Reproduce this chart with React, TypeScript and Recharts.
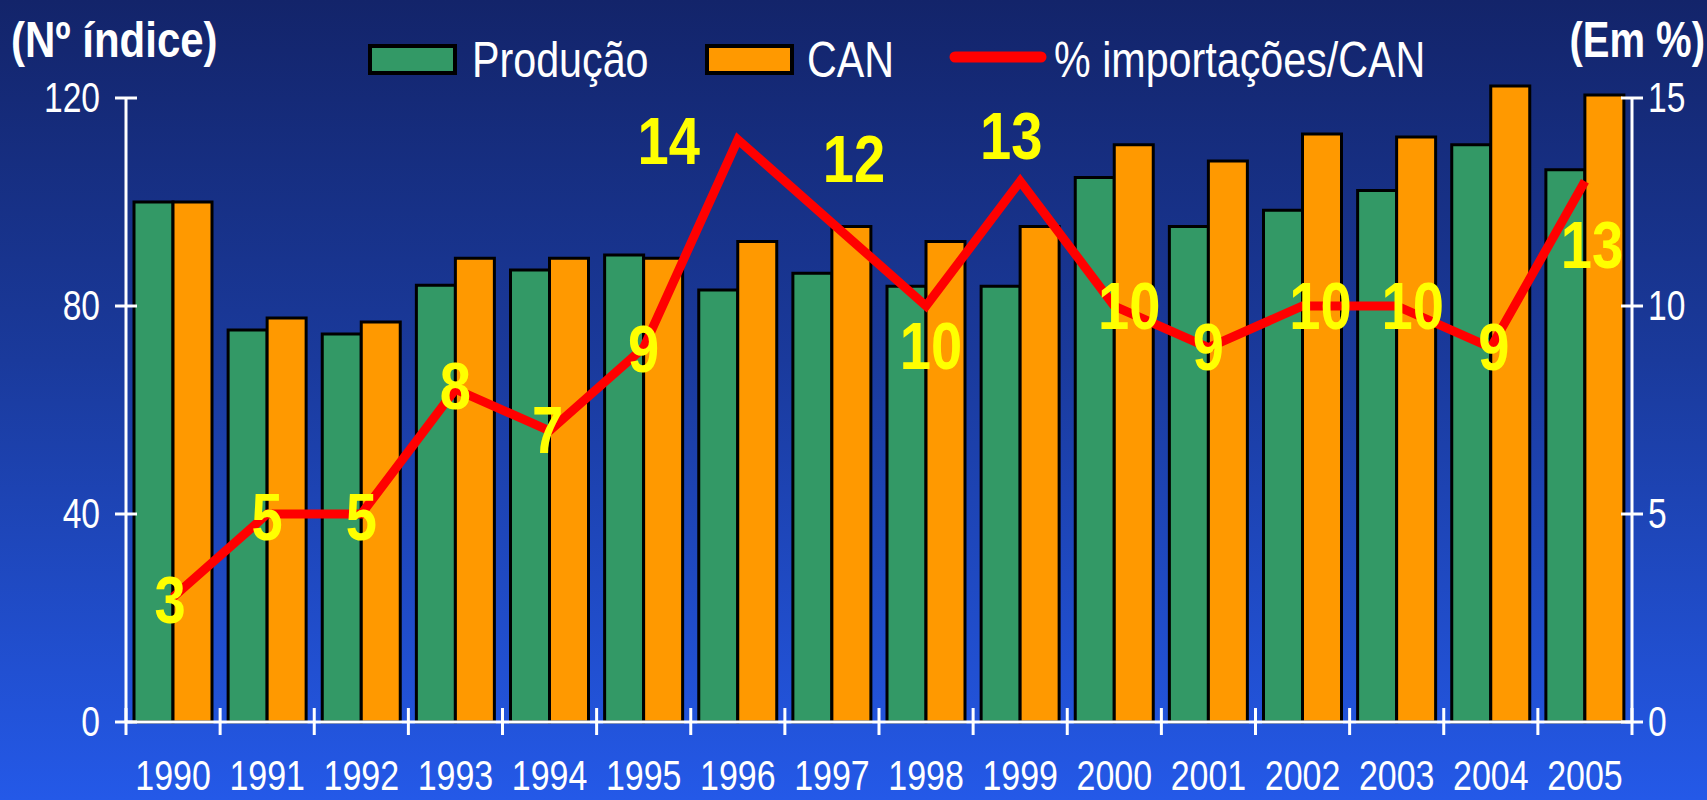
import React from "react";
import {
  ComposedChart,
  Bar,
  Line,
  XAxis,
  YAxis,
  Legend,
  LabelList,
} from "recharts";

const years = ["1990","1991","1992","1993","1994","1995","1996","1997","1998","1999","2000","2001","2002","2003","2004","2005"];
const producao = [100, 75.4, 74.6, 84, 86.9, 89.8, 83.1, 86.3, 83.8, 83.8, 104.7, 95.3, 98.4, 102.2, 111, 106.2];
const can = [100, 77.7, 76.9, 89.2, 89.2, 89.2, 92.4, 95.3, 92.4, 95.3, 111, 107.9, 113.1, 112.5, 122.3, 120.6];
const importShare = [3, 5, 5, 8, 7, 9, 14, 12, 10, 13, 10, 9, 10, 10, 9, 13];
const leftTicks = [0, 40, 80, 120];
const rightTicks = [0, 5, 10, 15];
const legendOrder = ["Produção", "CAN", "% importações/CAN"];

// label placement offsets (dx, dy) relative to the line point
const labelDx = [-3, 0, 0, 0, -2, 0, -69, 22, 5, -9, 15, 0, 18, 16, 3, 7];
const labelDy = [3, 3, 3, -3, 0, 2, 2, -63, 40, -45, 0, 0, 0, 0, 0, 64];

const data = years.map((y, i) => ({
  year: y,
  producao: producao[i],
  can: can[i],
  share: importShare[i],
}));

const W = 1707;
const H = 800;
const LEFT_W = 126;
const RIGHT_W = 75;
const TOP = 98;
const XAXIS_H = 78;
const BAND = (W - LEFT_W - RIGHT_W) / years.length;
const FONT = "'Liberation Sans', Arial, sans-serif";
const NARROW = 0.8;

const NText = (props: any) => {
  const { x, y, sx = NARROW, children, ...rest } = props;
  return (
    <text transform={`translate(${x},${y}) scale(${sx},1)`} x={0} y={0} fontFamily={FONT} {...rest}>
      {children}
    </text>
  );
};

const LeftTick = (props: any) => {
  const { x, y, payload } = props;
  return (
    <g>
      <line x1={x - 11} x2={x + 11} y1={y} y2={y} stroke="#fff" strokeWidth={3} />
      <NText x={x - 26} y={y} textAnchor="end" dominantBaseline="central" fill="#fff" fontSize={42}>
        {payload.value}
      </NText>
    </g>
  );
};

const RightTick = (props: any) => {
  const { x, y, payload } = props;
  return (
    <g>
      <line x1={x - 11} x2={x + 11} y1={y} y2={y} stroke="#fff" strokeWidth={3} />
      <NText x={x + 16} y={y} textAnchor="start" dominantBaseline="central" fill="#fff" fontSize={42}>
        {payload.value}
      </NText>
    </g>
  );
};

const XTick = (props: any) => {
  const { x, y, payload, index } = props;
  const half = BAND / 2;
  return (
    <g>
      <line x1={x - half} x2={x - half} y1={y - 14} y2={y + 13} stroke="#fff" strokeWidth={3} />
      {index === years.length - 1 && (
        <line x1={x + half} x2={x + half} y1={y - 14} y2={y + 13} stroke="#fff" strokeWidth={3} />
      )}
      <NText x={x} y={y + 53} sx={0.79} textAnchor="middle" dominantBaseline="central" fill="#fff" fontSize={43}>
        {payload.value}
      </NText>
    </g>
  );
};

const ShareLabel = (props: any) => {
  const { x, y, value, index } = props;
  return (
    <NText
      x={x + labelDx[index]}
      y={y + labelDy[index]}
      sx={0.85}
      textAnchor="middle"
      dominantBaseline="central"
      fill="#FFFF00"
      fontSize={66}
      fontWeight="bold"
    >
      {value}
    </NText>
  );
};

// legend item horizontal slots (swatch start, swatch end, text start)
const legendSlots = [
  [368, 457, 472],
  [705, 794, 807],
  [949, 1047, 1054],
];

const LegendContent = (props: any) => {
  const items = [...(props.payload || [])].sort(
    (a: any, b: any) => legendOrder.indexOf(a.value) - legendOrder.indexOf(b.value)
  );
  return (
    <svg width={W} height={60} style={{ display: "block" }}>
      {items.map((p: any, i: number) => {
        const [s0, s1, t0] = legendSlots[i];
        return (
          <g key={i}>
            {p.type === "line" ? (
              <line x1={s0 + 6} x2={s1 - 6} y1={27} y2={27} stroke={p.color} strokeWidth={11} strokeLinecap="round" />
            ) : (
              <rect x={s0 + 2} y={16} width={s1 - s0 - 4} height={27} fill={p.color} stroke="#000" strokeWidth={4} />
            )}
            <NText x={t0} y={30} sx={0.825} dominantBaseline="central" fill="#fff" fontSize={50}>
              {p.value}
            </NText>
          </g>
        );
      })}
    </svg>
  );
};

export default function App() {
  return (
    <div
      style={{
        position: "absolute",
        left: 0,
        top: 0,
        width: W,
        height: H,
        background: "linear-gradient(to bottom, #13246a 0%, #1a3a9c 45%, #2459e8 100%)",
        overflow: "hidden",
      }}
    >
      <style>{".recharts-wrapper [clip-path] { clip-path: none !important; }"}</style>
      <svg width={W} height={80} style={{ position: "absolute", left: 0, top: 0 }}>
        <NText x={11} y={40} sx={0.84} dominantBaseline="central" fill="#fff" fontSize={50} fontWeight="bold">
          (Nº índice)
        </NText>
        <NText x={1705} y={40} sx={0.8} textAnchor="end" dominantBaseline="central" fill="#fff" fontSize={50} fontWeight="bold">
          (Em %)
        </NText>
      </svg>
      <div style={{ position: "absolute", left: 0, top: 0 }}>
        <ComposedChart
          width={W}
          height={H}
          data={data}
          margin={{ top: TOP, right: 0, bottom: 0, left: 0 }}
          barGap={0}
          barCategoryGap={8}
        >
          <XAxis
            dataKey="year"
            height={XAXIS_H}
            interval={0}
            axisLine={{ stroke: "#fff", strokeWidth: 3 }}
            tickLine={false}
            tickSize={0}
            tickMargin={0}
            tick={<XTick />}
          />
          <YAxis
            yAxisId="left"
            orientation="left"
            width={LEFT_W}
            domain={[0, 120]}
            allowDataOverflow
            ticks={leftTicks}
            axisLine={{ stroke: "#fff", strokeWidth: 3 }}
            tickLine={false}
            tickSize={0}
            tickMargin={0}
            tick={<LeftTick />}
          />
          <YAxis
            yAxisId="right"
            orientation="right"
            width={RIGHT_W}
            domain={[0, 15]}
            allowDataOverflow
            ticks={rightTicks}
            axisLine={{ stroke: "#fff", strokeWidth: 3 }}
            tickLine={false}
            tickSize={0}
            tickMargin={0}
            tick={<RightTick />}
          />
          <Legend
            verticalAlign="middle"
            align="center"
            layout="horizontal"
            content={<LegendContent />}
            wrapperStyle={{ top: 30, left: 0, width: W, height: 60 }}
          />
          <Bar yAxisId="left" dataKey="producao" name="Produção" fill="#339966" stroke="#000" strokeWidth={3} legendType="rect" isAnimationActive={false} />
          <Bar yAxisId="left" dataKey="can" name="CAN" fill="#FF9900" stroke="#000" strokeWidth={3} legendType="rect" isAnimationActive={false} />
          <Line
            yAxisId="right"
            type="linear"
            dataKey="share"
            name="% importações/CAN"
            stroke="#FF0000"
            strokeWidth={9}
            dot={false}
            legendType="line"
            isAnimationActive={false}
          >
            <LabelList dataKey="share" content={<ShareLabel />} />
          </Line>
        </ComposedChart>
      </div>
    </div>
  );
}
